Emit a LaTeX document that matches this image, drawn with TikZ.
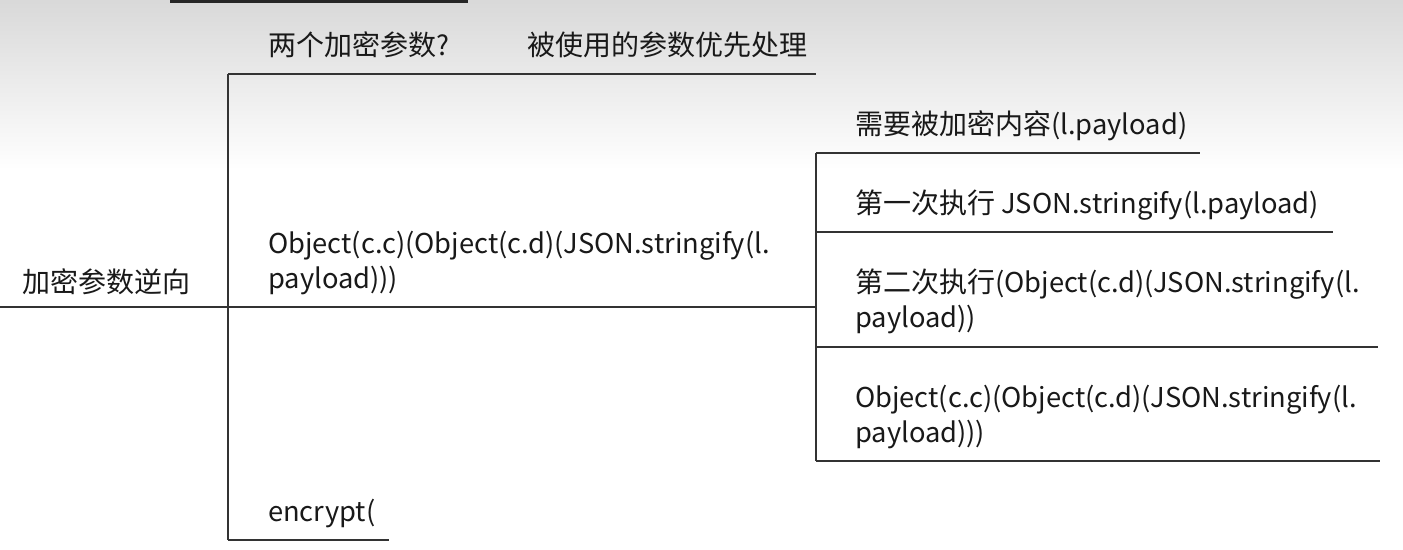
\documentclass[tikz,border=0pt]{standalone}
\usepackage{fontspec}
\setmainfont{Noto Sans CJK SC}
\newfontfamily\cjk[Scale=1.026]{Noto Sans CJK SC}
\newcommand\zh[1]{{\cjk #1}}
\begin{document}
\begin{tikzpicture}[x=1pt,y=-1pt,
  conn/.style={draw=black!80, line width=2pt},
  lbl/.style={anchor=base west, inner sep=0pt, font=\fontsize{27.3}{35}\selectfont, align=left, text=black!90}]
\useasboundingbox (0,0) rectangle (1403,549);
\fill[white] (0,0) rectangle (1403,549);
\shade[top color=black!15, bottom color=white] (0,0) rectangle (1403,170);
\draw[draw=black!85, line width=3pt] (170,1) -- (468,1);
% nodes
\node[lbl] (root) at (22,292) {\zh{加密参数逆向}};
\node[lbl] (b1) at (268,55) {\zh{两个加密参数}?};
\node[lbl] (b1c) at (527,55) {\zh{被使用的参数优先处理}};
\node[lbl] (b2) at (268,288) {Object(c.c)(Object(c.d)(JSON.stringify(l.\\payload)))};
\node[lbl] (b3) at (268,521) {encrypt(};
\node[lbl] (c1) at (855,134) {\zh{需要被加密内容}(l.payload)};
\node[lbl] (c2) at (855,213) {\zh{第一次执行} JSON.stringify(l.payload)};
\node[lbl] (c3) at (855,327) {\zh{第二次执行}(Object(c.d)(JSON.stringify(l.\\payload))};
\node[lbl] (c4) at (855,442) {Object(c.c)(Object(c.d)(JSON.stringify(l.\\payload)))};
% junction coordinates
\coordinate (t1) at (228,74);
\coordinate (t2) at (228,307);
\coordinate (t3) at (228,540);
\coordinate (s1) at (816,153);
\coordinate (s2) at (816,232);
\coordinate (s3) at (816,347);
\coordinate (s4) at (816,461);
\coordinate (s0) at (816,307);
% connectors
\draw[conn] (0,307) -- (t2) -- (s0);
\draw[conn] (t1) -- (t3);
\draw[conn] (t1) -- (816,74);
\draw[conn] (t3) -- (389,540);
\draw[conn] (s1) -- (s4);
\draw[conn] (s1) -- (1200,153);
\draw[conn] (s2) -- (1333,232);
\draw[conn] (s3) -- (1378,347);
\draw[conn] (s4) -- (1380,461);
\end{tikzpicture}
\end{document}
